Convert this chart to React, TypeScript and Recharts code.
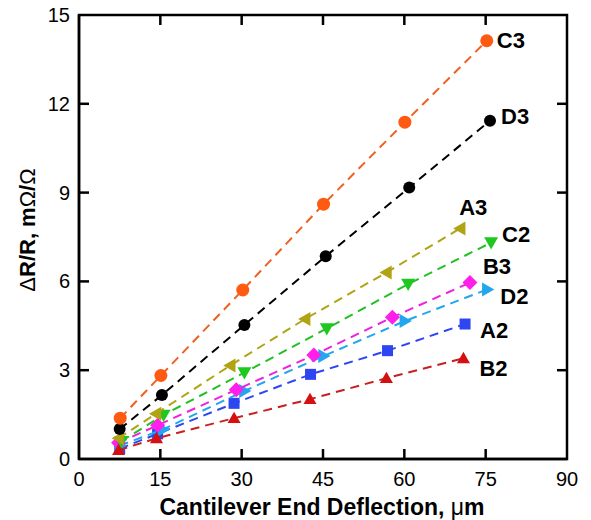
import React from 'react';
import { ScatterChart, Scatter, XAxis, YAxis } from 'recharts';

// ---- data ----
const xTicks = [0, 15, 30, 45, 60, 75, 90];
const yTicks = [0, 3, 6, 9, 12, 15];

const xC3 = [7.6, 15.1, 30.2, 45.1, 60.1, 75.2];
const yC3 = [1.38, 2.82, 5.71, 8.61, 11.38, 14.13];
const xD3 = [7.5, 15.3, 30.5, 45.5, 60.9, 75.8];
const yD3 = [1.01, 2.16, 4.53, 6.85, 9.17, 11.43];
const xA3 = [7.3, 14.2, 27.9, 41.7, 56.7, 70.3];
const yA3 = [0.7, 1.53, 3.16, 4.73, 6.3, 7.79];
const xC2 = [7.8, 15.6, 30.5, 45.7, 60.7, 76.0];
const yC2 = [0.6, 1.49, 2.92, 4.41, 5.91, 7.31];
const xB3 = [7.3, 14.5, 29.0, 43.3, 57.8, 72.1];
const yB3 = [0.55, 1.14, 2.34, 3.51, 4.79, 5.96];
const xD2 = [7.5, 15.5, 30.5, 45.1, 60.1, 75.3];
const yD2 = [0.45, 1.0, 2.3, 3.48, 4.66, 5.73];
const xA2 = [7.5, 14.5, 28.6, 42.7, 56.9, 71.2];
const yA2 = [0.35, 0.85, 1.88, 2.86, 3.66, 4.56];
const xB2 = [7.3, 14.3, 28.6, 42.6, 56.7, 70.9];
const yB2 = [0.3, 0.7, 1.38, 2.02, 2.73, 3.4];

const X_MAX = 90;
const Y_MAX = 15;

const toPoints = (xs: number[], ys: number[]) => xs.map((x, i) => ({ x, y: ys[i] }));

const FONT = "'Liberation Sans', Arial, sans-serif";

// plot box (layout)
const W = 591;
const H = 520;
const M_TOP = 15;
const M_RIGHT = 24;
const Y_AXIS_W = 79;
const X_AXIS_H = 61;
const PL = Y_AXIS_W;
const PR = W - M_RIGHT;
const PT = M_TOP;
const PB = H - X_AXIS_H;

type Kind = 'circle' | 'left' | 'down' | 'right' | 'up' | 'square' | 'diamond';

interface SeriesDef {
  name: string;
  data: { x: number; y: number }[];
  kind: Kind;
  color: string;
  lineColor: string;
  size: number;
  ldx: number;
  ldy: number;
}

const series: SeriesDef[] = [
  { name: 'A2', data: toPoints(xA2, yA2), kind: 'square', color: '#2E46F2', lineColor: '#2E46F2', size: 5.5, ldx: 15, ldy: 6 },
  { name: 'D2', data: toPoints(xD2, yD2), kind: 'right', color: '#22A6EE', lineColor: '#22A6EE', size: 7, ldx: 13, ldy: 7 },
  { name: 'B3', data: toPoints(xB3, yB3), kind: 'diamond', color: '#FF1EEA', lineColor: '#F020E0', size: 7.5, ldx: 13, ldy: -16 },
  { name: 'B2', data: toPoints(xB2, yB2), kind: 'up', color: '#D41010', lineColor: '#C82020', size: 6.5, ldx: 16, ldy: 10 },
  { name: 'C2', data: toPoints(xC2, yC2), kind: 'down', color: '#1EC81E', lineColor: '#22C022', size: 7, ldx: 11, ldy: -8 },
  { name: 'A3', data: toPoints(xA3, yA3), kind: 'left', color: '#B0A414', lineColor: '#B0A414', size: 7, ldx: -1, ldy: -21 },
  { name: 'D3', data: toPoints(xD3, yD3), kind: 'circle', color: '#000000', lineColor: '#000000', size: 6, ldx: 11, ldy: -4 },
  { name: 'C3', data: toPoints(xC3, yC3), kind: 'circle', color: '#FF5A12', lineColor: '#F06020', size: 6.5, ldx: 10, ldy: 0 },
];

const makeShape = (s: SeriesDef) => (props: any) => {
  const { cx, cy, payload } = props;
  if (cx == null || cy == null) return <g />;
  const r = s.size;
  let mark: React.ReactNode;
  switch (s.kind) {
    case 'circle':
      mark = <circle cx={cx} cy={cy} r={r} fill={s.color} />;
      break;
    case 'square':
      mark = <rect x={cx - r} y={cy - r} width={2 * r} height={2 * r} fill={s.color} />;
      break;
    case 'diamond':
      mark = <polygon points={`${cx},${cy - r} ${cx + r},${cy} ${cx},${cy + r} ${cx - r},${cy}`} fill={s.color} />;
      break;
    case 'up':
      mark = <polygon points={`${cx},${cy - r} ${cx + r},${cy + r * 0.75} ${cx - r},${cy + r * 0.75}`} fill={s.color} />;
      break;
    case 'down':
      mark = <polygon points={`${cx},${cy + r} ${cx + r},${cy - r * 0.75} ${cx - r},${cy - r * 0.75}`} fill={s.color} />;
      break;
    case 'left':
      mark = <polygon points={`${cx - r},${cy} ${cx + r * 0.75},${cy - r} ${cx + r * 0.75},${cy + r}`} fill={s.color} />;
      break;
    case 'right':
      mark = <polygon points={`${cx + r},${cy} ${cx - r * 0.75},${cy - r} ${cx - r * 0.75},${cy + r}`} fill={s.color} />;
      break;
  }
  const last = s.data[s.data.length - 1];
  const isLast = payload && payload.x === last.x && payload.y === last.y;
  return (
    <g>
      {mark}
      {isLast && (
        <text
          x={cx + s.ldx}
          y={cy + s.ldy}
          dominantBaseline="central"
          textAnchor="start"
          fontFamily={FONT}
          fontWeight="bold"
          fontSize={22}
          fill="#000"
        >
          {s.name}
        </text>
      )}
    </g>
  );
};

const TICK_W = 2.5;
const TICK_LEN = 10;
const TICK_FONT = 20;

const BottomTick = (props: any) => {
  const { x, y, payload } = props;
  return (
    <text x={x} y={y + 26.5} textAnchor="middle" fontFamily={FONT} fontSize={TICK_FONT} fill="#000">
      {payload.value}
    </text>
  );
};

const LeftTick = (props: any) => {
  const { x, y, payload } = props;
  return (
    <text x={x - 9} y={y + 7} textAnchor="end" fontFamily={FONT} fontSize={TICK_FONT} fill="#000">
      {payload.value}
    </text>
  );
};

const axisLine = { stroke: '#000', strokeWidth: 2.5 };

const px = (t: number) => PL + (t / X_MAX) * (PR - PL);
const py = (t: number) => PB - (t / Y_MAX) * (PB - PT);

export default function App() {
  return (
    <div style={{ position: 'absolute', left: 0, top: 0, width: W, height: H, background: '#fff' }}>
      <ScatterChart width={W} height={H} margin={{ top: M_TOP, right: M_RIGHT, bottom: 0, left: 0 }}>
        <XAxis
          type="number"
          dataKey="x"
          domain={[0, X_MAX]}
          ticks={xTicks}
          height={X_AXIS_H}
          axisLine={axisLine}
          tickLine={false}
          tickSize={0}
          tickMargin={0}
          tick={BottomTick}
        />
        <YAxis
          type="number"
          dataKey="y"
          domain={[0, Y_MAX]}
          ticks={yTicks}
          width={Y_AXIS_W}
          axisLine={axisLine}
          tickLine={false}
          tickSize={0}
          tickMargin={0}
          tick={LeftTick}
        />
        {series.map((s) => (
          <Scatter
            key={s.name}
            name={s.name}
            data={s.data}
            isAnimationActive={false}
            line={{ stroke: s.lineColor, strokeWidth: 2, strokeDasharray: '9 6', fill: 'none' }}
            lineType="joint"
            shape={makeShape(s)}
          />
        ))}
      </ScatterChart>
      <svg width={W} height={H} style={{ position: 'absolute', left: 0, top: 0, pointerEvents: 'none' }}>
        <rect x={PL} y={PT} width={PR - PL} height={PB - PT} fill="none" stroke="#000" strokeWidth={TICK_W} />
        {xTicks.slice(1, -1).map((t) => (
          <g key={`xt${t}`}>
            <line x1={px(t)} x2={px(t)} y1={PB} y2={PB - TICK_LEN} stroke="#000" strokeWidth={TICK_W} />
            <line x1={px(t)} x2={px(t)} y1={PT} y2={PT + TICK_LEN} stroke="#000" strokeWidth={TICK_W} />
          </g>
        ))}
        {yTicks.slice(1, -1).map((t) => (
          <g key={`yt${t}`}>
            <line x1={PL} x2={PL + TICK_LEN} y1={py(t)} y2={py(t)} stroke="#000" strokeWidth={TICK_W} />
            <line x1={PR} x2={PR - TICK_LEN} y1={py(t)} y2={py(t)} stroke="#000" strokeWidth={TICK_W} />
          </g>
        ))}
        <text x={322} y={515} textAnchor="middle" fontFamily={FONT} fontWeight="bold" fontSize={23} fill="#000">
          Cantilever End Deflection, <tspan fontWeight="normal">μ</tspan>m
        </text>
        <text transform="translate(35,230) rotate(-90)" textAnchor="middle" fontFamily={FONT} fontWeight="bold" fontSize={22} fill="#000">
          <tspan fontWeight="normal">Δ</tspan>R/R, m<tspan fontWeight="normal">Ω</tspan>/<tspan fontWeight="normal">Ω</tspan>
        </text>
      </svg>
    </div>
  );
}
